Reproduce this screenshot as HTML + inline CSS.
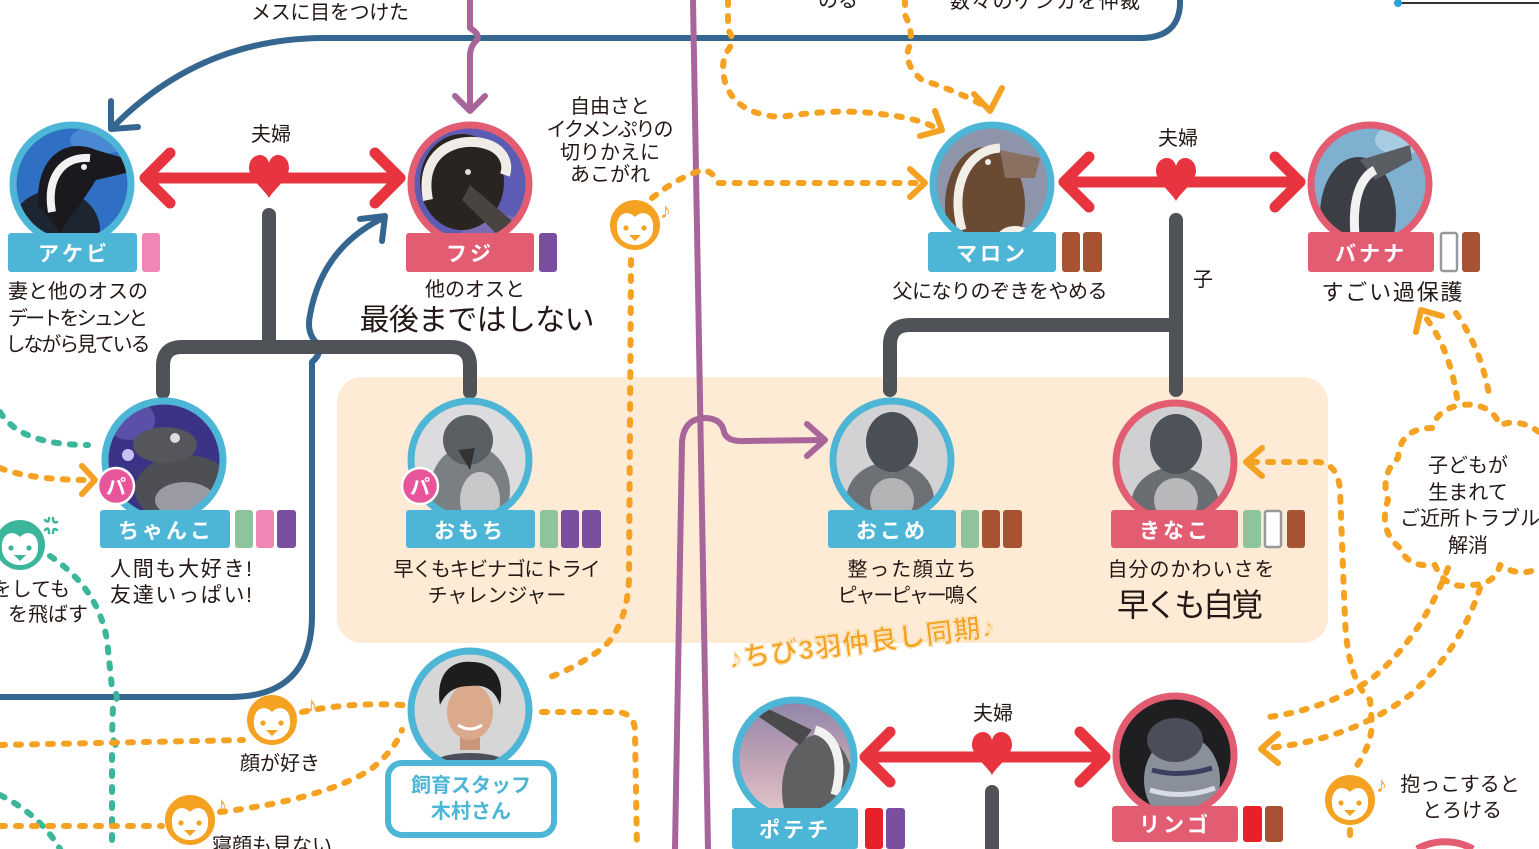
<!DOCTYPE html>
<html><head><meta charset="utf-8">
<style>
html,body{margin:0;padding:0;background:#fff;width:1539px;height:849px;overflow:hidden;}
svg{display:block;overflow:hidden;}
text{font-family:"Liberation Sans","Noto Sans CJK JP",sans-serif;fill:#231815;}
.d{font-size:20px;}
.lb{font-size:21px;font-weight:bold;fill:#fff;letter-spacing:3px;}
.od{fill:none;stroke:#f5a222;stroke-width:6;stroke-dasharray:5 11;stroke-linecap:round;stroke-linejoin:round;}
.td{fill:none;stroke:#3bb69b;stroke-width:6;stroke-dasharray:5 11;stroke-linecap:round;}
.oa{fill:none;stroke:#f5a222;stroke-width:6;stroke-linecap:round;stroke-linejoin:round;}
.red{fill:none;stroke:#e7343f;stroke-width:11;stroke-linecap:round;stroke-linejoin:round;}
.gray{fill:none;stroke:#4f5357;stroke-width:14;stroke-linecap:round;stroke-linejoin:round;}
.blue{fill:none;stroke:#356690;stroke-width:6;stroke-linecap:round;stroke-linejoin:round;}
.pur{fill:none;stroke:#a8659a;stroke-width:6;stroke-linecap:round;stroke-linejoin:round;}
.rt{fill:none;stroke:#4db6d6;stroke-width:7;}
.rp{fill:none;stroke:#e35d72;stroke-width:7;}
</style></head><body>
<svg width="1539" height="849" viewBox="0 0 1539 849" xmlns="http://www.w3.org/2000/svg">
<defs>
<path id="heart" d="M0,21 C-4,13 -20,2 -20,-9 C-20,-18 -14,-22 -9,-22 C-4,-22 -1,-18 0,-14 C1,-18 4,-22 9,-22 C14,-22 20,-18 20,-9 C20,2 4,13 0,21 Z" fill="#e7343f"/>
<g id="peng">
<circle r="25" fill="currentColor"/>
<path d="M-18,3 C-19,-11 -8,-16 0,-8 C8,-16 19,-11 18,3 C18,15 8,20 0,20 C-8,20 -18,15 -18,3 Z" fill="#fff"/>
<circle cx="-9" cy="3" r="2.6" fill="currentColor"/>
<circle cx="9" cy="3" r="2.6" fill="currentColor"/>
<path d="M-6,10 L6,10 L0,16 Z" fill="currentColor"/>
</g>
<clipPath id="c1"><circle cx="72" cy="184" r="59"/></clipPath>
<clipPath id="c2"><circle cx="470" cy="184" r="59"/></clipPath>
<clipPath id="c3"><circle cx="992" cy="184" r="59"/></clipPath>
<clipPath id="c4"><circle cx="1370" cy="184" r="59"/></clipPath>
<clipPath id="c5"><circle cx="164" cy="460" r="59"/></clipPath>
<clipPath id="c6"><circle cx="470" cy="460" r="59"/></clipPath>
<clipPath id="c7"><circle cx="892" cy="460" r="59"/></clipPath>
<clipPath id="c8"><circle cx="1175" cy="462" r="59"/></clipPath>
<clipPath id="c9"><circle cx="470" cy="710" r="59"/></clipPath>
<clipPath id="c10"><circle cx="795" cy="759" r="59"/></clipPath>
<clipPath id="c11"><circle cx="1175" cy="755" r="59"/></clipPath>
<linearGradient id="gpot" x1="0" y1="0" x2="0" y2="1"><stop offset="0" stop-color="#8f84a8"/><stop offset="0.6" stop-color="#c9a9b8"/><stop offset="1" stop-color="#e8d0d0"/></linearGradient>
</defs>

<!-- peach area -->
<rect x="337" y="377" width="991" height="266" rx="25" fill="#fdebd5"/>

<!-- top texts -->
<text class="d" x="330" y="19" text-anchor="middle" textLength="158">メスに目をつけた</text>
<text class="d" x="838" y="7" text-anchor="middle">のる</text>
<text class="d" x="1045" y="8" text-anchor="middle" textLength="190">数々のケンカを仲裁</text>
<path d="M1398,3 L1539,3" stroke="#333" stroke-width="2"/>
<circle cx="1398" cy="3" r="4" fill="#2aa0d8"/>

<!-- top blue line -->
<path class="blue" d="M1180,0 L1180,5 Q1178,38 1140,38 L320,38 Q200,40 115,125"/>
<path class="blue" d="M111,101 L111,129 L138,127"/>

<!-- left blue rect line -->
<path class="blue" d="M0,697 L230,697 Q312,697 312,615 L312,362 Q322,354 318,344 Q306,334 310,315 Q322,248 383,218"/>
<path class="blue" d="M360,219 L385,216 L382,241"/>

<!-- purple lines -->
<path class="pur" d="M470,0 L470,28 Q480,34 477,40 Q470,46 470,56 L470,110"/>
<path class="pur" d="M455,96 L470,111 L485,96"/>
<path class="pur" d="M693,0 L700,400 L708,849"/>
<path class="pur" d="M675,849 L682,442 Q684,418 706,418 Q722,419 724,432 Q727,442 745,441 L824,440"/>
<path class="pur" d="M807,424 L825,440 L807,456"/>

<!-- orange dashed top -->
<path class="od" d="M728,0 L728,30 Q736,40 728,50 Q720,62 725,82 Q735,114 780,117 Q840,108 880,114 Q918,118 936,128"/>
<path class="oa" d="M935,111 L942,130 L920,136"/>
<path class="od" d="M905,0 L905,15 Q915,35 908,50 Q905,66 922,80 Q960,92 988,108"/>
<path class="oa" d="M974,94 L990,111 L1002,88"/>
<path class="od" d="M652,198 Q680,176 703,170 Q714,172 718,183 L922,183"/>
<path class="oa" d="M910,169 L925,183 L910,197"/>
<path class="od" d="M631,260 L629,580 Q626,630 600,650 Q575,668 550,677"/>

<!-- gray family lines -->
<path class="gray" d="M269,215 L269,347"/>
<path class="gray" d="M163,392 L163,366 Q163,347 182,347 L451,347 Q470,347 470,366 L470,392"/>
<path class="gray" d="M1176,220 L1176,390"/>
<path class="gray" d="M890,390 L890,345 Q890,325 910,325 L1176,325"/>
<path d="M992,792 L992,849" fill="none" stroke="#4f5357" stroke-width="14" stroke-linecap="round"/>

<!-- red arrows -->
<path class="red" d="M147,178 L398,178"/>
<path class="red" d="M170,153 L145,178 L170,203"/>
<path class="red" d="M375,153 L400,178 L375,203"/>
<use href="#heart" x="269" y="177"/>
<path class="red" d="M1066,182 L1298,182"/>
<path class="red" d="M1089,157 L1064,182 L1089,207"/>
<path class="red" d="M1275,157 L1300,182 L1275,207"/>
<use href="#heart" x="1176" y="180"/>
<path class="red" d="M867,757 L1103,757"/>
<path class="red" d="M890,732 L865,757 L890,782"/>
<path class="red" d="M1080,732 L1105,757 L1080,782"/>
<use href="#heart" x="992" y="754"/>

<text class="d" x="271" y="141" text-anchor="middle">夫婦</text>
<text class="d" x="1178" y="145" text-anchor="middle">夫婦</text>
<text class="d" x="993" y="720" text-anchor="middle">夫婦</text>
<text class="d" x="1203" y="286" text-anchor="middle">子</text>

<!-- left edge lines -->
<path class="td" d="M0,412 Q20,445 88,445"/>
<path class="od" d="M0,468 Q30,480 90,480"/>
<path class="oa" d="M82,466 L95,480 L82,494"/>
<path class="td" d="M50,556 Q98,588 107,640 L112,688 Q121,697 113,705 L112,738 Q119,746 112,754 L112,849"/>
<path class="td" d="M0,795 Q40,815 60,849"/>
<use href="#peng" x="20" y="545" style="color:#3bb69b"/>
<g stroke="#3bb69b" stroke-width="2.5" fill="none" stroke-linecap="round">
<path d="M45,520 Q49,524 49,518"/><path d="M53,518 Q53,524 57,522"/><path d="M45,530 Q49,526 49,533"/><path d="M53,533 Q53,527 57,530"/>
</g>
<text class="d" x="70" y="596" text-anchor="end">をしても</text>
<text class="d" x="88" y="621" text-anchor="end">を飛ばす</text>

<!-- bottom-left orange lines -->
<path class="od" d="M0,745 L243,740"/>
<path class="od" d="M302,712 Q350,702 403,705"/>
<use href="#peng" x="272" y="720" style="color:#f5a222"/>
<text x="306" y="712" font-size="22" style="fill:#f5a222">♪</text>
<text class="d" x="280" y="770" text-anchor="middle">顔が好き</text>
<path class="od" d="M0,826 L162,826"/>
<path class="od" d="M220,812 Q320,800 370,770 Q395,750 402,730"/>
<use href="#peng" x="190" y="820" style="color:#f5a222"/>
<text x="216" y="812" font-size="22" style="fill:#f5a222">♪</text>
<text class="d" x="212" y="852">寝顔も見ない</text>
<path class="od" d="M542,712 L615,712 Q635,712 635,732 L637,849"/>

<!-- orange penguin near Fuji -->
<use href="#peng" x="635" y="225" style="color:#f5a222"/>
<text x="660" y="218" font-size="22" style="fill:#f5a222">♪</text>
<text class="d" x="610" y="113" text-anchor="middle" font-size="19">自由さと</text>
<text class="d" x="610" y="136" text-anchor="middle" font-size="19" textLength="127">イクメンぷりの</text>
<text class="d" x="610" y="159" text-anchor="middle" font-size="19">切りかえに</text>
<text class="d" x="610" y="181" text-anchor="middle" font-size="19">あこがれ</text>

<!-- right side cloud & lines -->
<path class="od" d="M1539,432 Q1520,418 1500,425 Q1490,402 1462,405 Q1438,408 1432,428 Q1400,428 1398,458 Q1380,475 1388,500 Q1378,530 1400,548 Q1408,568 1435,565 Q1445,590 1470,585 Q1495,585 1500,565 Q1520,578 1539,568"/>
<text class="d" x="1468" y="472" text-anchor="middle">子どもが</text>
<text class="d" x="1468" y="499" text-anchor="middle">生まれて</text>
<text class="d" x="1470" y="525" text-anchor="middle">ご近所トラブル</text>
<text class="d" x="1468" y="552" text-anchor="middle">解消</text>
<path class="od" d="M1457,398 Q1450,350 1426,318"/>
<path class="oa" d="M1416,332 L1421,310 L1442,316"/>
<path class="od" d="M1456,313 Q1482,350 1490,400"/>
<path class="od" d="M1448,568 Q1420,640 1370,680 Q1320,712 1260,718"/>
<path class="od" d="M1480,588 Q1460,650 1410,695 Q1350,740 1268,748"/>
<path class="oa" d="M1278,734 L1261,749 L1278,763"/>
<path class="od" d="M1252,462 L1318,462 Q1338,464 1340,490 L1345,620 Q1348,680 1370,700 L1372,725 Q1370,750 1352,772"/>
<path class="oa" d="M1262,448 L1246,462 L1262,476"/>
<path class="od" d="M1350,830 L1350,846"/>
<use href="#peng" x="1350" y="800" style="color:#f5a222"/>
<text x="1376" y="792" font-size="22" style="fill:#f5a222">♪</text>
<text class="d" x="1460" y="791" text-anchor="middle">抱っこすると</text>
<text class="d" x="1462" y="817" text-anchor="middle">とろける</text>
<path d="M1417,849 A58,58 0 0 1 1473,849" fill="none" stroke="#e35d72" stroke-width="7"/>

<!-- ===== NODES ===== -->
<!-- Akebi -->
<g clip-path="url(#c1)">
<rect x="10" y="122" width="124" height="124" fill="#2f6fc4"/>
<ellipse cx="100" cy="140" rx="30" ry="14" fill="#4a88d4"/>
<ellipse cx="55" cy="230" rx="45" ry="40" fill="#1d2530"/>
<path d="M38,205 C36,152 70,138 96,150 L130,160 L126,173 L96,180 C86,196 72,216 60,232 Z" fill="#1a1a1e"/>
<path d="M52,212 C46,178 62,156 90,158" stroke="#f2f2f2" stroke-width="8" fill="none"/>
<circle cx="84" cy="167" r="3" fill="#eee"/>
</g>
<circle cx="72" cy="184" r="59" class="rt"/>
<rect x="8" y="233" width="129" height="39" rx="3" fill="#4db6d6"/>
<text class="lb" x="74" y="261" text-anchor="middle">アケビ</text>
<rect x="142" y="233" width="18" height="39" rx="3" fill="#ef86b5"/>
<text class="d" x="78" y="298" text-anchor="middle" textLength="140">妻と他のオスの</text>
<text class="d" x="78" y="325" text-anchor="middle" textLength="140">デートをシュンと</text>
<text class="d" x="78" y="351" text-anchor="middle" textLength="145">しながら見ている</text>

<!-- Fuji -->
<g clip-path="url(#c2)">
<rect x="408" y="122" width="124" height="124" fill="#5d5cb5"/>
<ellipse cx="500" cy="240" rx="40" ry="25" fill="#7a6cb0"/>
<ellipse cx="462" cy="182" rx="42" ry="48" fill="#2a2420"/>
<path d="M428,200 C420,160 445,140 475,142 C500,144 510,160 505,175" stroke="#f0ece8" stroke-width="10" fill="none"/>
<path d="M470,185 L525,232 L505,242 L462,200 Z" fill="#4a4440"/>
<circle cx="468" cy="172" r="3" fill="#ddd"/>
</g>
<circle cx="470" cy="184" r="59" class="rp"/>
<rect x="406" y="233" width="128" height="39" rx="3" fill="#e35d72"/>
<text class="lb" x="470" y="261" text-anchor="middle">フジ</text>
<rect x="539" y="233" width="18" height="39" rx="3" fill="#7b4fa0"/>
<text class="d" x="475" y="296" text-anchor="middle">他のオスと</text>
<text x="477" y="330" text-anchor="middle" font-size="30" textLength="235">最後まではしない</text>

<!-- Maron -->
<g clip-path="url(#c3)">
<rect x="930" y="122" width="124" height="124" fill="#8e95aa"/>
<ellipse cx="985" cy="205" rx="40" ry="58" fill="#6b4a33"/>
<path d="M962,230 C950,190 965,150 1000,148" stroke="#f2eee8" stroke-width="9" fill="none"/>
<path d="M1000,150 L1040,158 L1035,178 L1005,178 Z" fill="#8a7060"/>
<ellipse cx="1015" cy="238" rx="18" ry="12" fill="#f4f0ea"/>
<circle cx="988" cy="162" r="3" fill="#eee"/>
</g>
<circle cx="992" cy="184" r="59" class="rt"/>
<rect x="928" y="232" width="128" height="40" rx="3" fill="#4db6d6"/>
<text class="lb" x="992" y="261" text-anchor="middle">マロン</text>
<rect x="1062" y="232" width="18" height="40" rx="3" fill="#a65233"/>
<rect x="1083" y="232" width="19" height="40" rx="3" fill="#a65233"/>
<text class="d" x="1000" y="298" text-anchor="middle" textLength="215">父になりのぞきをやめる</text>

<!-- Banana -->
<g clip-path="url(#c4)">
<rect x="1308" y="122" width="124" height="124" fill="#7fb0d0"/>
<ellipse cx="1400" cy="140" rx="25" ry="15" fill="#a8cde2"/>
<ellipse cx="1358" cy="215" rx="38" ry="58" fill="#3b3f45"/>
<path d="M1360,160 L1410,145 L1412,160 L1375,180 Z" fill="#5a5d62"/>
<path d="M1355,235 C1352,200 1360,178 1375,170" stroke="#f2f2f2" stroke-width="9" fill="none"/>
</g>
<circle cx="1370" cy="184" r="59" class="rp"/>
<rect x="1308" y="232" width="126" height="40" rx="3" fill="#e35d72"/>
<text class="lb" x="1371" y="261" text-anchor="middle">バナナ</text>
<rect x="1441" y="233" width="16" height="38" rx="2" fill="#fff" stroke="#999" stroke-width="2.5"/>
<rect x="1462" y="232" width="18" height="40" rx="3" fill="#a65233"/>
<text x="1392" y="300" text-anchor="middle" font-size="22" textLength="141">すごい過保護</text>

<!-- Chanko -->
<g clip-path="url(#c5)">
<rect x="102" y="398" width="124" height="124" fill="#3b3486"/>
<ellipse cx="130" cy="420" rx="25" ry="20" fill="#5a50a8"/>
<ellipse cx="185" cy="490" rx="50" ry="35" fill="#4e4e55"/>
<ellipse cx="165" cy="445" rx="32" ry="18" fill="#55555c"/>
<ellipse cx="185" cy="500" rx="30" ry="18" fill="#9a9aa2"/>
<circle cx="175" cy="438" r="5" fill="#ddd"/>
<circle cx="128" cy="455" r="6" fill="#c8c0f0"/>
</g>
<circle cx="164" cy="460" r="59" class="rt"/>
<rect x="100" y="510" width="130" height="38" rx="3" fill="#4db6d6"/>
<text class="lb" x="166" y="538" text-anchor="middle">ちゃんこ</text>
<rect x="235" y="510" width="18" height="38" rx="3" fill="#8dc49c"/>
<rect x="256" y="510" width="18" height="38" rx="3" fill="#ef86b5"/>
<rect x="277" y="510" width="19" height="38" rx="3" fill="#7b4fa0"/>
<circle cx="116" cy="486" r="18" fill="#e8559a" stroke="#fff" stroke-width="2.5"/>
<text x="116" y="494" text-anchor="middle" font-size="20" font-weight="bold" style="fill:#fff">パ</text>
<text x="110" y="576" font-size="21" textLength="142">人間も大好き!</text>
<text x="110" y="602" font-size="21" textLength="142">友達いっぱい!</text>

<!-- Omochi -->
<g clip-path="url(#c6)">
<rect x="408" y="398" width="124" height="124" fill="#dcdcde"/>
<ellipse cx="470" cy="490" rx="40" ry="45" fill="#7a7f84"/>
<ellipse cx="468" cy="440" rx="25" ry="25" fill="#5a5f64"/>
<ellipse cx="480" cy="500" rx="20" ry="28" fill="#c8c8ca"/>
<path d="M458,450 L470,470 L475,448 Z" fill="#333"/>
</g>
<circle cx="470" cy="460" r="59" class="rt"/>
<rect x="406" y="510" width="129" height="38" rx="3" fill="#4db6d6"/>
<text class="lb" x="470" y="538" text-anchor="middle">おもち</text>
<rect x="540" y="510" width="18" height="38" rx="3" fill="#8dc49c"/>
<rect x="561" y="510" width="18" height="38" rx="3" fill="#7b4fa0"/>
<rect x="582" y="510" width="19" height="38" rx="3" fill="#7b4fa0"/>
<circle cx="420" cy="486" r="18" fill="#e8559a" stroke="#fff" stroke-width="2.5"/>
<text x="420" y="494" text-anchor="middle" font-size="20" font-weight="bold" style="fill:#fff">パ</text>
<text class="d" x="497" y="576" text-anchor="middle" textLength="207">早くもキビナゴにトライ</text>
<text class="d" x="497" y="602" text-anchor="middle">チャレンジャー</text>

<!-- Okome -->
<g clip-path="url(#c7)">
<rect x="830" y="398" width="124" height="124" fill="#d2d2d4"/>
<ellipse cx="890" cy="500" rx="44" ry="38" fill="#6d7176"/>
<ellipse cx="892" cy="442" rx="26" ry="30" fill="#4a4f55"/>
<ellipse cx="892" cy="500" rx="22" ry="22" fill="#b4b4b6"/>
</g>
<circle cx="892" cy="460" r="59" class="rt"/>
<rect x="828" y="510" width="128" height="38" rx="3" fill="#4db6d6"/>
<text class="lb" x="892" y="538" text-anchor="middle">おこめ</text>
<rect x="961" y="510" width="18" height="38" rx="3" fill="#8dc49c"/>
<rect x="982" y="510" width="18" height="38" rx="3" fill="#a65233"/>
<rect x="1003" y="510" width="19" height="38" rx="3" fill="#a65233"/>
<text class="d" x="912" y="576" text-anchor="middle" textLength="129">整った顔立ち</text>
<text class="d" x="910" y="602" text-anchor="middle" textLength="145">ピャーピャー鳴く</text>

<!-- Kinako -->
<g clip-path="url(#c8)">
<rect x="1113" y="400" width="124" height="124" fill="#d0d0d2"/>
<ellipse cx="1175" cy="505" rx="44" ry="38" fill="#6a6e73"/>
<ellipse cx="1176" cy="444" rx="26" ry="30" fill="#4e5359"/>
<ellipse cx="1176" cy="500" rx="22" ry="22" fill="#b8b8ba"/>
</g>
<circle cx="1175" cy="462" r="59" class="rp"/>
<rect x="1111" y="510" width="127" height="38" rx="3" fill="#e35d72"/>
<text class="lb" x="1175" y="538" text-anchor="middle">きなこ</text>
<rect x="1243" y="510" width="18" height="38" rx="3" fill="#8dc49c"/>
<rect x="1265" y="511" width="16" height="36" rx="2" fill="#fff" stroke="#999" stroke-width="2.5"/>
<rect x="1287" y="510" width="18" height="38" rx="3" fill="#a65233"/>
<text class="d" x="1191" y="576" text-anchor="middle" font-size="21" textLength="167">自分のかわいさを</text>
<text x="1190" y="616" text-anchor="middle" font-size="32" textLength="146">早くも自覚</text>

<text x="862" y="652" text-anchor="middle" font-size="27" font-weight="bold" transform="rotate(-7 862 645)" style="fill:#f5a222;stroke:#f5a222;stroke-width:1.2" textLength="268">♪ちび3羽仲良し同期♪</text>
<text x="862" y="652" text-anchor="middle" font-size="27" font-weight="bold" transform="rotate(-7 862 645)" style="fill:none;stroke:#fff3dc;stroke-width:0.8" textLength="268">♪ちび3羽仲良し同期♪</text>

<!-- Kimura -->
<g clip-path="url(#c9)">
<rect x="410" y="650" width="124" height="124" fill="#d6d6d6"/>
<ellipse cx="470" cy="775" rx="50" ry="22" fill="#4b4f5c"/>
<rect x="460" y="730" width="20" height="20" fill="#c8967a"/>
<ellipse cx="470" cy="712" rx="23" ry="28" fill="#dba98c"/>
<path d="M440,705 C435,670 455,660 472,662 C495,662 505,680 500,705 C495,690 485,684 470,686 C455,686 446,692 440,705 Z" fill="#1d1d1d"/>
<path d="M458,725 Q470,733 482,725" stroke="#fff" stroke-width="3" fill="none"/>
</g>
<circle cx="470" cy="710" r="59" class="rt"/>
<rect x="388" y="763" width="166" height="72" rx="14" fill="#fff" stroke="#4db6d6" stroke-width="6"/>
<text x="471" y="792" text-anchor="middle" font-size="20" font-weight="bold" style="fill:#4db6d6">飼育スタッフ</text>
<text x="471" y="818" text-anchor="middle" font-size="20" font-weight="bold" style="fill:#4db6d6">木村さん</text>

<!-- Potechi -->
<g clip-path="url(#c10)">
<rect x="735" y="699" width="124" height="124" fill="url(#gpot)"/>
<ellipse cx="818" cy="790" rx="36" ry="55" fill="#5f6062"/>
<path d="M800,745 L752,712 L760,705 L812,730 Z" fill="#4a4a4c"/>
<path d="M835,795 C845,760 835,735 815,730" stroke="#f2f2f2" stroke-width="9" fill="none"/>
</g>
<circle cx="795" cy="759" r="59" class="rt"/>
<rect x="732" y="808" width="126" height="41" rx="3" fill="#4db6d6"/>
<text class="lb" x="795" y="837" text-anchor="middle">ポテチ</text>
<rect x="865" y="808" width="18" height="41" rx="3" fill="#e8202a"/>
<rect x="886" y="808" width="19" height="41" rx="3" fill="#7b4fa0"/>

<!-- Ringo -->
<g clip-path="url(#c11)">
<rect x="1113" y="693" width="124" height="124" fill="#1f1f22"/>
<ellipse cx="1182" cy="780" rx="38" ry="45" fill="#8a909a"/>
<ellipse cx="1175" cy="740" rx="28" ry="22" fill="#4a4e58"/>
<path d="M1150,790 Q1182,800 1215,788" stroke="#d8dce8" stroke-width="5" fill="none"/>
<path d="M1152,770 Q1180,778 1212,768" stroke="#3a3e60" stroke-width="5" fill="none"/>
</g>
<circle cx="1175" cy="755" r="59" class="rp"/>
<rect x="1112" y="806" width="126" height="36" rx="3" fill="#e35d72"/>
<text class="lb" x="1175" y="832" text-anchor="middle">リンゴ</text>
<rect x="1243" y="806" width="19" height="36" rx="3" fill="#e8202a"/>
<rect x="1265" y="806" width="18" height="36" rx="3" fill="#a65233"/>

</svg>
</body></html>
